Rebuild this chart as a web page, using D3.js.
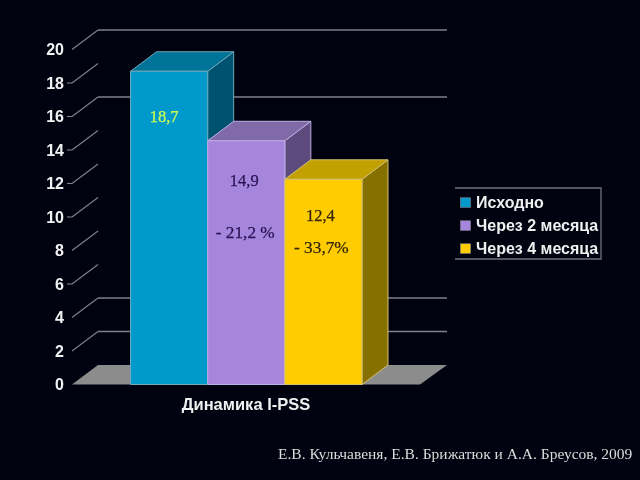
<!DOCTYPE html>
<html><head><meta charset="utf-8">
<style>html,body{margin:0;padding:0;background:#00020f}svg{display:block}</style>
<script src="https://cdn.jsdelivr.net/npm/d3@7"></script></head>
<body><div id="c"></div>
<script>
const seriesNames = ["Исходно","Через 2 месяца","Через 4 месяца"];
const seriesValues = [18.7,14.55,12.25];
const valueLabels = ["18,7","14,9","12,4"];
const changeLabels = [null,"- 21,2 %","- 33,7%"];
const yTicks = [0,2,4,6,8,10,12,14,16,18,20];
const gridFull = [20,16,4,2];
const tickStubs = [18,16,14,12,10,6];
const categoryLabel = "Динамика I-PSS";
const sourceText = "Е.В. Кульчавеня, Е.В. Брижатюк и А.А. Бреусов, 2009";

const W=640,H=480,DX=26,DY=-19.5;
const front=["#0099cc","#a685dd","#ffcc00"], top_=["#007399","#806aa8","#c2a000"], side=["#00536f","#5c4c7c","#857000"], edge=["#6fa9b8","#bcaee6","#d2c070"];
const labelCol=["#ccff55","#2a1252","#33260a"];
const sans="'Liberation Sans',Arial,sans-serif", serif="'Liberation Serif','Times New Roman',serif";
const svg=d3.select("#c").append("svg").attr("width",W).attr("height",H);
svg.append("rect").attr("width",W).attr("height",H).attr("fill","#00020f");
svg.append("defs").append("filter").attr("id","soft").append("feGaussianBlur").attr("stdDeviation",0.35);
const g=svg.append("g").attr("filter","url(#soft)");

const y=d3.scaleLinear().domain([0,20]).range([384.5,49.5]);
const x=d3.scaleBand().domain(seriesNames).range([130.5,362]).padding(0);
const plotL=72, plotR=421;
const grid="#80808c";

// floor
g.append("path").attr("d",d3.line()([[plotL,y(0)],[plotL+DX,y(0)+DY],[plotR+DX,y(0)+DY],[plotR-1,y(0)]])+"Z").attr("fill","#8c8c8c");
// wall gridlines
g.selectAll("line.grid").data(gridFull).join("line").attr("x1",plotL+DX).attr("x2",plotR+DX)
 .attr("y1",d=>y(d)+DY).attr("y2",d=>y(d)+DY).attr("stroke",grid).attr("stroke-width",1.3);
// side diagonals
g.selectAll("line.diag").data(yTicks.slice(1)).join("line").attr("x1",plotL).attr("y1",d=>y(d))
 .attr("x2",plotL+DX).attr("y2",d=>y(d)+DY).attr("stroke",grid).attr("stroke-width",1.1);
// tick stubs
g.selectAll("line.stub").data(tickStubs).join("line").attr("x1",plotL-5).attr("x2",plotL).attr("y1",d=>y(d)).attr("y2",d=>y(d)).attr("stroke",grid).attr("stroke-width",1.1);

// axis labels
const ax=g.append("g").attr("transform",`translate(64,0)`).call(d3.axisLeft(y).tickValues(yTicks).tickSize(0).tickPadding(0));
ax.select(".domain").remove();
ax.selectAll("text").attr("fill","#f2f2f2").attr("font-family",sans).attr("font-weight","bold").attr("font-size",16);

// bars
seriesNames.forEach((n,i)=>{
  const x0=x(n),x1=x0+x.bandwidth(),yt=y(seriesValues[i]),yb=y(0);
  const b=g.append("g").attr("stroke",edge[i]).attr("stroke-width",1).attr("stroke-linejoin","round");
  const l=d3.line();
  b.append("path").attr("d",l([[x1,yt],[x1+DX,yt+DY],[x1+DX,yb+DY],[x1,yb]])+"Z").attr("fill",side[i]);
  b.append("path").attr("d",l([[x0,yt],[x0+DX,yt+DY],[x1+DX,yt+DY],[x1,yt]])+"Z").attr("fill",top_[i]);
  b.append("path").attr("d",l([[x0,yt],[x1,yt],[x1,yb],[x0,yb]])+"Z").attr("fill",front[i]);
});

// value labels
const lblY=[122,186,221], chgY=[null,238,253];
seriesNames.forEach((n,i)=>{
  const cx=x(n)+x.bandwidth()/2-(i==0?5:i==1?2:3);
  g.append("text").attr("x",cx).attr("y",lblY[i]).attr("text-anchor","middle").attr("font-family",serif).attr("font-size",16.5).attr("fill",labelCol[i]).attr("stroke",labelCol[i]).attr("stroke-width",.25).text(valueLabels[i]);
  if(changeLabels[i]) g.append("text").attr("x",cx+1).attr("y",chgY[i]).attr("text-anchor","middle").attr("font-family",serif).attr("font-size",17.3).attr("fill",labelCol[i]).attr("stroke",labelCol[i]).attr("stroke-width",.25).text(changeLabels[i]);
});

g.append("text").attr("x",246).attr("y",410).attr("text-anchor","middle").attr("font-family",sans).attr("font-weight","bold").attr("font-size",16.5).attr("fill","#f0f0f0").text(categoryLabel);

// legend
const lg=g.append("g");
lg.append("path").attr("d","M455,188H601V259H455").attr("fill","none").attr("stroke","#70707c").attr("stroke-width",1.3);
const rowY=[202.5,225.5,248.5];
seriesNames.forEach((n,i)=>{
  lg.append("rect").attr("x",460.5).attr("y",rowY[i]-4.7).attr("width",10).attr("height",9.5).attr("fill",front[i]).attr("stroke","#9a9aa5").attr("stroke-width",.5);
  lg.append("text").attr("x",476).attr("y",rowY[i]+5.5).attr("font-family",sans).attr("font-weight","bold").attr("font-size",16).attr("fill","#f0f0f0").text(n);
});

g.append("text").attr("x",278).attr("y",459).attr("font-family",serif).attr("font-size",15.5).attr("fill","#dcdcdc").text(sourceText);
</script></body></html>
